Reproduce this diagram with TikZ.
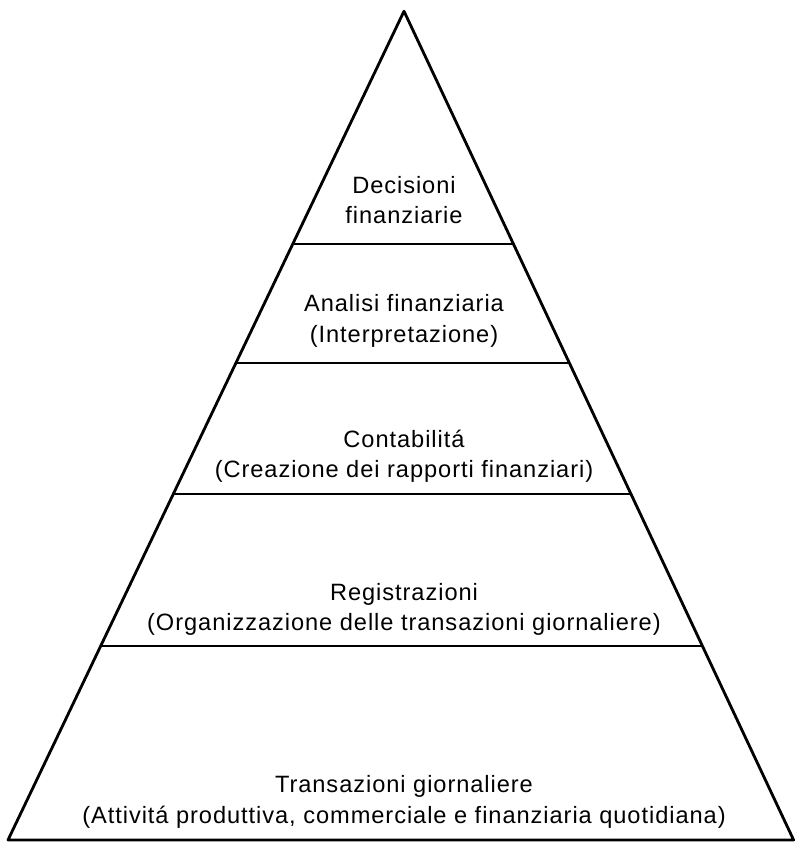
\documentclass[tikz,border=0pt]{standalone}
\usepackage{fontspec}
\setmainfont[LetterSpace=4]{Liberation Sans}
\usetikzlibrary{calc}

\begin{document}
\begin{tikzpicture}[line join=round]
            \tikzstyle{sideLine} = [draw=black, line width=2pt]
            \tikzstyle{levelLine} = [draw=black, line width=1.6pt]
            \tikzstyle{levelText} = [align=center, font=\fontsize{16.8}{21.5}\selectfont]
            \useasboundingbox (0,0) rectangle (19.875,21.1);
            \coordinate (top) at (10.1,20.82);
            \coordinate (left) at (0.2,0.1);
            \coordinate (right) at (19.84,0.1);
            \path[sideLine] (left) -- (top) -- (right) -- cycle;
            \foreach \t/\n in {0.281/1,0.4246/2,0.5826/3,0.766/4}
                \path[levelLine] ($(top)!\t!(left)$) coordinate (l\n)
                    -- ($(top)!\t!(right)$) coordinate (r\n);
            \node[levelText] (dec) at (10.1,16.09) {Decisioni\\finanziarie};
            \node[levelText] (ana) at (10.1,13.08) {Analisi finanziaria\\(Interpretazione)};
            \node[levelText] (con) at (10.1,9.69) {Contabilitá\\(Creazione dei rapporti finanziari)};
            \node[levelText] (reg) at (10.1,5.86) {Registrazioni\\(Organizzazione delle transazioni giornaliere)};
            \node[levelText] (tra) at (10.1,1.05) {Transazioni giornaliere\\(Attivitá produttiva, commerciale e finanziaria quotidiana)};
        \end{tikzpicture}
\end{document}
